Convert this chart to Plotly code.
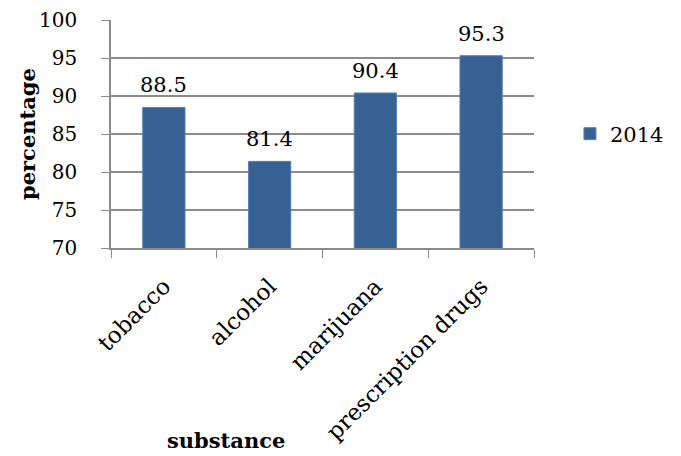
import plotly.graph_objects as go

categories = ["tobacco", "alcohol", "marijuana", "prescription drugs"]
values_2014 = [88.5, 81.4, 90.4, 95.3]
series_name = "2014"
y_ticks = [70, 75, 80, 85, 90, 95, 100]

FONT = "DejaVu Serif"
FS = 21
BAR = "#386193"
GRID = "#8c8c8c"

# page offset of 8px (default body margin)
W, H = 673, 448
PL, PR, PT, PB = 111 - 8, 534 - 8, 20 - 8, 248 - 8
PW, PH = PR - PL, PB - PT

fig = go.Figure()
fig.add_trace(go.Bar(
    x=categories, y=values_2014, name=series_name,
    marker=dict(color=BAR, line=dict(color="#5a80b0", width=1)),
))
for c, v in zip(categories, values_2014):
    fig.add_annotation(x=c, y=v, text=f"{v:.1f}", showarrow=False,
                       xanchor="center", yanchor="bottom", yshift=8,
                       font=dict(family=FONT, size=FS, color="black"))

fig.update_layout(
    width=W, height=H,
    margin=dict(l=PL, r=W - PR, t=PT, b=H - PB, autoexpand=False),
    paper_bgcolor="white", plot_bgcolor="white",
    bargap=0.6,
    font=dict(family=FONT, size=FS, color="black"),
    showlegend=True,
    legend=dict(x=1.085, y=0.5, xanchor="left", yanchor="middle",
                font=dict(family=FONT, size=FS), itemwidth=30),
)
fig.update_xaxes(
    type="category", tickangle=-45, tickson="boundaries", automargin=False,
    ticks="outside", ticklen=8, tickcolor=GRID, ticklabelstandoff=14,
    showline=True, linecolor=GRID, linewidth=1.5, showgrid=False,
    tickfont=dict(family=FONT, size=23),
)
fig.update_yaxes(
    range=[70, 100], tickvals=y_ticks, ticks="outside", ticklen=8, automargin=False,
    tickcolor=GRID, showline=True, linecolor=GRID, linewidth=1.5,
    showgrid=True, gridcolor=GRID, gridwidth=1.5,
    ticklabelstandoff=20, zeroline=False,
    tickfont=dict(family=FONT, size=20),
)
fig.add_annotation(text="<b>percentage</b>", xref="paper", yref="paper",
                   x=-(111 - 27) / PW, y=0.5, textangle=-90, showarrow=False,
                   font=dict(family=FONT, size=FS), xanchor="center", yanchor="middle")
fig.add_annotation(text="<b>substance</b>", xref="paper", yref="paper",
                   x=(226 - 111) / PW, y=-(440 - 248) / PH, showarrow=False,
                   font=dict(family=FONT, size=FS), xanchor="center", yanchor="middle")

fig.write_html("out.html")
